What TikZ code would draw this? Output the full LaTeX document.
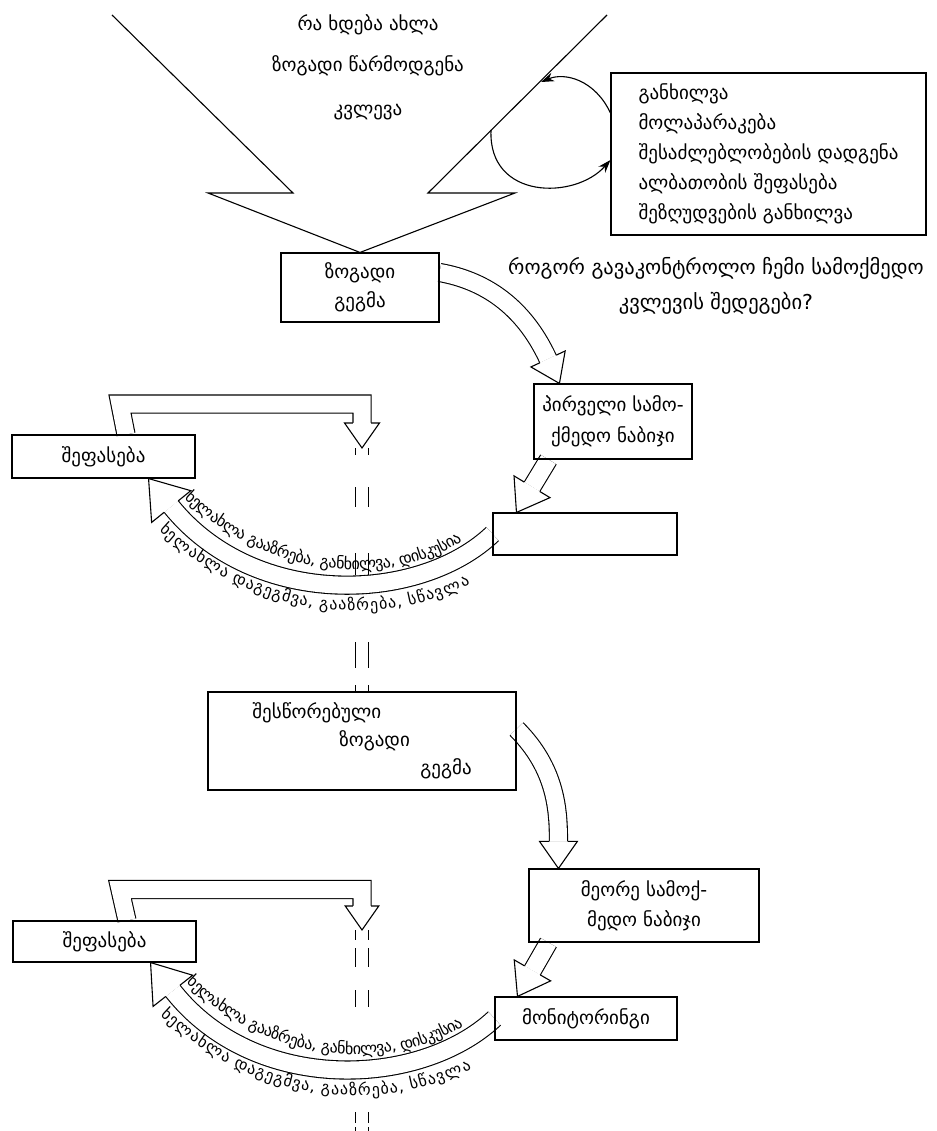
\documentclass[tikz,border=0pt]{standalone}
\usepackage{fontspec}
\setmainfont{DejaVu Sans}
\usetikzlibrary{backgrounds,decorations.markings,decorations.text,arrows.meta}
\newcommand{\arcfont}{\fontsize{16}{18}\selectfont}

\begin{document}
\begin{tikzpicture}[x=1pt, y=1pt]
\tikzstyle{every node}=[font=\fontsize{19}{30}\selectfont];
\tikzstyle{box}=[draw, line width=1.1pt, inner sep=2pt];
\tikzstyle{gap}=[draw, double=white, double distance=11.9pt, line width=1.1pt];
\tikzstyle{turn}=[draw, line width=1.1pt, -{Stealth[length=13pt, width=9pt]}];
\tikzset{hollow/.style={draw, double=white, double distance=17pt, line width=1.1pt, shorten >=#1pt,
  postaction={decorate, decoration={markings, mark=at position 0.9999 with
  {\filldraw[fill=white, shorten >=0pt] (-#1,9.05) -- (-#1,{0.7*#1}) -- (0,0) -- (-#1,{-0.7*#1}) -- (-#1,-9.05);}}}},
  hollow/.default=27}
\useasboundingbox (0,0) rectangle (936,-1131);

% top: what is going on
\node (now) at (368,-25) {რა ხდება ახლა};
\node (idea) at (368,-66) {ზოგადი წარმოდგენა};
\node (study) at (368,-112) {კვლევა};
\node[box, minimum width=158, minimum height=69, align=center, font=\fontsize{19}{29}\selectfont] (plan1) at (360,-287.5) {ზოგადი\\გეგმა};
\node[box, minimum width=315, minimum height=162, align=left] (talk) at (768.5,-154) {განხილვა\\მოლაპარაკება\\შესაძლებლობების დადგენა\\ალბათობის შეფასება\\შეზღუდვების განხილვა};
\node[align=center, font=\fontsize{20.5}{35}\selectfont] (ask) at (716,-285.5) {როგორ გავაკონტროლო ჩემი სამოქმედო\\კვლევის შედეგები?};
\draw[line width=1.1pt] (112,-15) -- (293,-193) -- (208,-193) -- (plan1.north) -- (515,-193) -- (428,-193) -- (607,-15);
\coordinate (rim1) at (491,-130);
\coordinate (rim2) at (541,-82);
\draw[turn] (rim1) .. controls (488,-200) and (575,-200) .. (talk.west |- 0,-160);
\draw[turn] (talk.west |- 0,-113) .. controls (595,-80) and (565,-72) .. (rim2);

% first cycle
\node[box, minimum width=158, minimum height=75, align=center, font=\fontsize{19}{31}\selectfont] (step1) at (613,-421.5) {პირველი სამო-\\ქმედო ნაბიჯი};
\node[box, minimum width=183, minimum height=43] (eval1) at (103.5,-456.5) {შეფასება};
\node[box, minimum width=184, minimum height=42] (check1) at (585,-534) {};
\node[box, minimum width=308, minimum height=98, align=left, font=\fontsize{19}{28}\selectfont] (plan2) at (362,-741) {შესწორებული\\\hspace*{87pt}ზოგადი\\\hspace*{168pt}გეგმა};

% second cycle
\node[box, minimum width=230, minimum height=73, align=center, font=\fontsize{19}{30}\selectfont] (step2) at (644,-905.5) {მეორე სამოქ-\\მედო ნაბიჯი};
\node[box, minimum width=183, minimum height=41] (eval2) at (104.5,-941.5) {შეფასება};
\node[box, minimum width=182, minimum height=43] (check2) at (586,-1018.5) {მონიტორინგი};

\coordinate (drop1) at (plan2.north |- 0,-448);
\coordinate (drop2) at (plan2.north |- 0,-930);
\coordinate (tail) at (plan2.north |- 0,-1131);

\begin{scope}[on background layer]
\draw[gap, dash pattern=on 7pt off 32pt on 20pt off 46pt on 22pt off 67pt on 26pt off 17pt on 7pt] (drop1) -- (plan2.north);
\draw[gap, dash pattern=on 10pt off 8pt on 19pt off 23pt on 17pt off 105pt on 11pt off 4pt on 20pt] (drop2) -- (tail);

\draw[hollow] ([yshift=15pt]plan1.east) to[out=-10, in=115] ([xshift=26pt]step1.north west);
\draw[hollow=30] ([xshift=15pt]step1.south west) -- ([xshift=24pt]check1.north west);
\draw[hollow=25] ([xshift=22.5pt]eval1.north) -- (120,-404) -- (drop1 |- 0,-404) -- (drop1);
\draw[hollow=36,
  postaction={decorate, decoration={text along path, reverse path, raise=13pt, text align={align=left, left indent=40pt},
    text={|\arcfont|ხელახლა გააზრება, განხილვა, დისკუსია}}},
  postaction={decorate, decoration={text along path, reverse path, raise=-28pt, text align=center,
    text={|\arcfont|ხელახლა დაგეგმვა, გააზრება, სწავლა}}}]
  (check1.west) .. controls (420,-603) and (255,-610) .. ([xshift=-47pt]eval1.south east);

\draw[hollow] ([yshift=12pt]plan2.east) to[out=-45, in=90] ([xshift=30pt]step2.north west);
\draw[hollow=30] ([xshift=20pt]step2.south west) -- ([xshift=23pt]check2.north west);
\draw[hollow=24] ([xshift=22.5pt]eval2.north) -- (120,-889.5) -- (drop2 |- 0,-889.5) -- (drop2);
\draw[hollow=36,
  postaction={decorate, decoration={text along path, reverse path, raise=13pt, text align={align=left, left indent=40pt},
    text={|\arcfont|ხელახლა გააზრება, განხილვა, დისკუსია}}},
  postaction={decorate, decoration={text along path, reverse path, raise=-28pt, text align=center,
    text={|\arcfont|ხელახლა დაგეგმვა, გააზრება, სწავლა}}}]
  (check2.west) .. controls (420,-1088) and (255,-1095) .. ([xshift=-46pt]eval2.south east);
\end{scope}
\end{tikzpicture}
\end{document}
